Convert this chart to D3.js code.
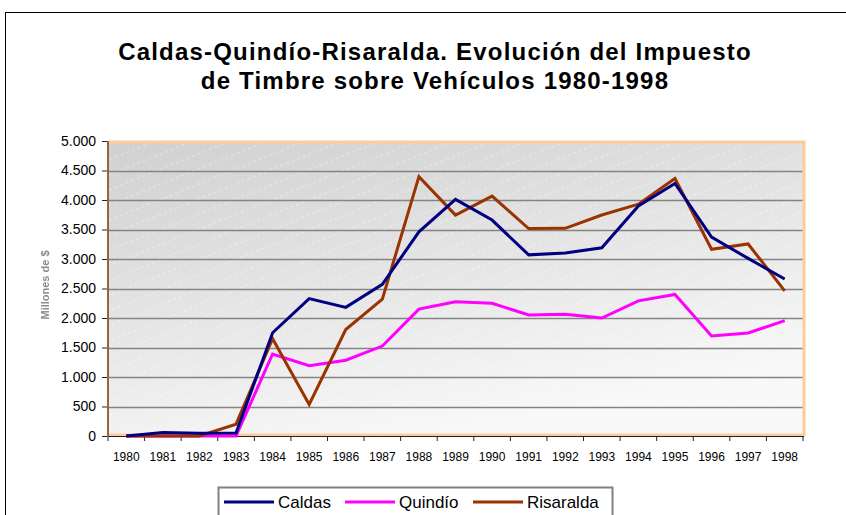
<!DOCTYPE html>
<html>
<head>
<meta charset="utf-8">
<script src="https://cdn.jsdelivr.net/npm/d3@7"></script>
<style>
  body { margin: 0; background: #fff; }
  svg text { font-family: "Liberation Sans", Arial, sans-serif; }
</style>
</head>
<body>
<svg id="chart" width="846" height="515"></svg>
<script>
// chart data (millones de $)
var years = ["1980","1981","1982","1983","1984","1985","1986","1987","1988","1989",
             "1990","1991","1992","1993","1994","1995","1996","1997","1998"];
var caldas    = [0, 60, 45, 50, 1750, 2330, 2180, 2570, 3460, 4010, 3660, 3070, 3100, 3190, 3900, 4280, 3370, 3010, 2660];
var quindio   = [0, 0, 0, 0, 1390, 1190, 1285, 1525, 2150, 2275, 2250, 2050, 2065, 2000, 2290, 2400, 1695, 1745, 1955];
var risaralda = [0, 0, 0, 200, 1650, 535, 1805, 2320, 4395, 3745, 4065, 3515, 3520, 3745, 3930, 4365, 3165, 3255, 2460];
var seriesNames = ["Caldas", "Quindío", "Risaralda"];
var seriesColors = ["#000080", "#ff00ff", "#993300"];
var yTicks = [0, 500, 1000, 1500, 2000, 2500, 3000, 3500, 4000, 4500, 5000];
var titleLines = ["Caldas-Quindío-Risaralda. Evolución del Impuesto",
                  "de Timbre sobre Vehículos 1980-1998"];
var yTitle = "Millones de $";

var svg = d3.select("#chart");
var plot = { left: 108, top: 141, right: 803, bottom: 436 };

var x = d3.scaleBand().domain(years).range([plot.left, plot.right]).padding(0);
var y = d3.scaleLinear().domain([0, 5000]).range([plot.bottom, plot.top]);

var locale = d3.formatLocale({ decimal: ",", thousands: ".", grouping: [3], currency: ["$", ""] });
var fmt = locale.format(",");

// outer frame
svg.append("rect")
    .attr("x", 5.5).attr("y", 12.5)
    .attr("width", 900).attr("height", 600)
    .attr("fill", "none").attr("stroke", "#000").attr("stroke-width", 1);

// title
svg.selectAll("text.title")
    .data(titleLines)
    .enter()
    .append("text")
    .attr("class", "title")
    .attr("x", 435)
    .attr("y", function (d, i) { return 59.5 + i * 29.5; })
    .attr("text-anchor", "middle")
    .style("font-size", "24px")
    .style("font-weight", "bold")
    .style("letter-spacing", "1.2px")
    .text(function (d) { return d; });

// plot background
var defs = svg.append("defs");
var grad = defs.append("linearGradient").attr("id", "bg")
    .attr("x1", 0).attr("y1", 0).attr("x2", 0.45).attr("y2", 1);
grad.append("stop").attr("offset", "0%").attr("stop-color", "#d0d0d0");
grad.append("stop").attr("offset", "100%").attr("stop-color", "#f8f8f8");

var pat = defs.append("pattern").attr("id", "streaks")
    .attr("patternUnits", "userSpaceOnUse")
    .attr("width", 60).attr("height", 14)
    .attr("patternTransform", "rotate(-22)");
pat.append("line")
    .attr("x1", 0).attr("x2", 60).attr("y1", 7).attr("y2", 7)
    .attr("stroke", "#fff").attr("stroke-width", 1)
    .attr("stroke-dasharray", "3,3")
    .attr("opacity", 0.45);

defs.append("filter").attr("id", "soft")
    .append("feGaussianBlur").attr("stdDeviation", 0.6);

svg.append("rect")
    .attr("x", plot.left).attr("y", plot.top)
    .attr("width", plot.right - plot.left).attr("height", plot.bottom - plot.top)
    .attr("fill", "url(#bg)");
svg.append("rect")
    .attr("x", plot.left).attr("y", plot.top)
    .attr("width", plot.right - plot.left).attr("height", plot.bottom - plot.top)
    .attr("fill", "url(#streaks)");

// gridlines
svg.selectAll("line.grid")
    .data(yTicks.filter(function (d) { return d > 0 && d < 5000; }))
    .enter()
    .append("line")
    .attr("class", "grid")
    .attr("x1", plot.left).attr("x2", plot.right)
    .attr("y1", function (d) { return Math.round(y(d)) + 0.5; })
    .attr("y2", function (d) { return Math.round(y(d)) + 0.5; })
    .attr("stroke", "#848484")
    .attr("stroke-width", 1.5);

// plot border: peach top/right/bottom, brown left
svg.append("path")
    .attr("d", "M" + plot.left + "," + (plot.top + 1) + "H" + (plot.right + 1) + "V" + (plot.bottom - 1) + "H" + plot.left)
    .attr("fill", "none").attr("stroke", "#ffcc99").attr("stroke-width", 3);
svg.append("line")
    .attr("x1", plot.left).attr("x2", plot.left)
    .attr("y1", plot.top).attr("y2", plot.bottom)
    .attr("stroke", "#996633").attr("stroke-width", 2);

// y axis
var yAxis = svg.append("g")
    .attr("transform", "translate(" + (plot.left - 1) + ",0)")
    .call(d3.axisLeft(y).tickValues(yTicks).tickFormat(fmt).tickSize(5).tickPadding(6));
yAxis.select(".domain").remove();
yAxis.selectAll(".tick line").attr("stroke", "#222");
yAxis.selectAll(".tick text")
    .style("font-size", "14px")
    .style("font-family", "'Liberation Sans', Arial, sans-serif")
    .attr("fill", "#000");

// x axis
var xAxis = svg.append("g")
    .attr("transform", "translate(0," + plot.bottom + ")");
xAxis.append("line")
    .attr("x1", plot.left).attr("x2", plot.right + 1)
    .attr("y1", 0.5).attr("y2", 0.5)
    .attr("stroke", "#222").attr("stroke-width", 1);
xAxis.selectAll("line.tick")
    .data(years.concat(["end"]))
    .enter()
    .append("line")
    .attr("class", "tick")
    .attr("x1", function (d, i) { return plot.left + i * x.bandwidth(); })
    .attr("x2", function (d, i) { return plot.left + i * x.bandwidth(); })
    .attr("y1", 0).attr("y2", 5)
    .attr("stroke", "#222");
xAxis.selectAll("text")
    .data(years)
    .enter()
    .append("text")
    .attr("x", function (d) { return x(d) + x.bandwidth() / 2; })
    .attr("y", 25)
    .attr("text-anchor", "middle")
    .style("font-size", "12px")
    .text(function (d) { return d; });

// y title (blurry in the original)
svg.append("text")
    .attr("transform", "translate(49,285) rotate(-90)")
    .attr("text-anchor", "middle")
    .style("font-size", "11px")
    .style("font-weight", "bold")
    .attr("fill", "#8c8c8c")
    .attr("filter", "url(#soft)")
    .text(yTitle);

// lines (drawn magenta, brown, then navy on top)
var series = [caldas, quindio, risaralda];
var drawOrder = [1, 2, 0];
var line = d3.line()
    .x(function (d, i) { return x(years[i]) + x.bandwidth() / 2; })
    .y(function (d) { return y(d); });

svg.selectAll("path.series")
    .data(drawOrder)
    .enter()
    .append("path")
    .attr("class", "series")
    .attr("d", function (k) { return line(series[k]); })
    .attr("fill", "none")
    .attr("stroke", function (k) { return seriesColors[k]; })
    .attr("stroke-width", 3)
    .attr("stroke-linejoin", "miter");

// legend
var legend = svg.append("g");
legend.append("rect")
    .attr("x", 218.5).attr("y", 487.5)
    .attr("width", 394).attr("height", 60)
    .attr("fill", "#fff").attr("stroke", "#808080").attr("stroke-width", 2);
var legendX = [224, 345, 473];
var items = legend.selectAll("g.item")
    .data(seriesNames)
    .enter()
    .append("g")
    .attr("transform", function (d, i) { return "translate(" + legendX[i] + ",502)"; });
items.append("line")
    .attr("x1", 0).attr("x2", 50)
    .attr("stroke", function (d, i) { return seriesColors[i]; })
    .attr("stroke-width", 3);
items.append("text")
    .attr("x", 54).attr("y", 6)
    .style("font-size", "17px")
    .text(function (d) { return d; });
</script>
</body>
</html>
